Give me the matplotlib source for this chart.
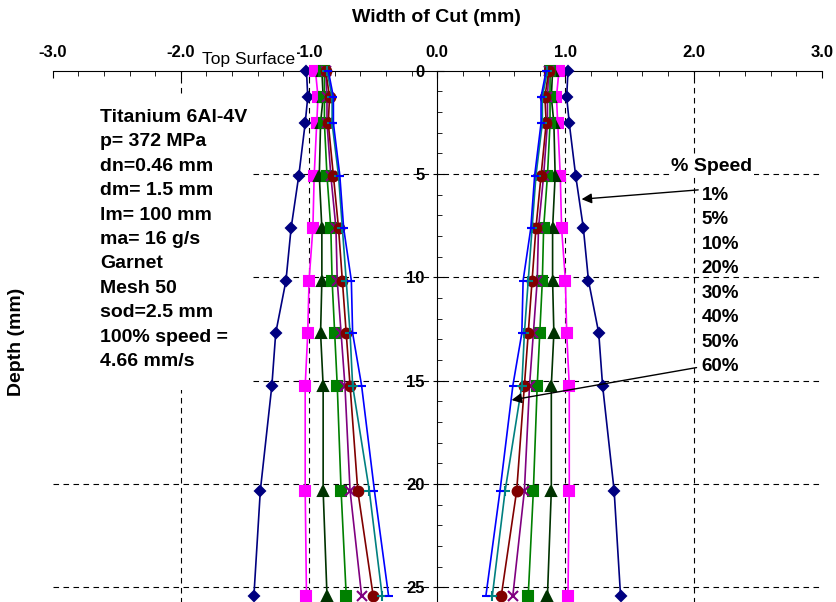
import matplotlib
matplotlib.use('Agg')
import matplotlib.pyplot as plt
from matplotlib.patches import Rectangle
from matplotlib.ticker import MultipleLocator, FormatStrFormatter

plt.rcParams['font.family'] = ['Liberation Sans', 'DejaVu Sans']
plt.rcParams['axes.unicode_minus'] = False

# depth below top surface (mm)
depth = [0, 1.27, 2.54, 5.08, 7.62, 10.16, 12.7, 15.24, 20.32, 25.4]

# half width of cut (mm) for each traverse speed, mirrored about 0
w_1 = [1.02, 1.01, 1.03, 1.08, 1.14, 1.18, 1.26, 1.29, 1.38, 1.43]
w_5 = [0.95, 0.93, 0.94, 0.96, 0.97, 1.00, 1.01, 1.03, 1.03, 1.02]
w_10 = [0.90, 0.89, 0.91, 0.92, 0.90, 0.90, 0.91, 0.89, 0.89, 0.86]
w_20 = [0.88, 0.88, 0.88, 0.86, 0.83, 0.82, 0.80, 0.78, 0.75, 0.71]
w_30 = [0.87, 0.86, 0.86, 0.83, 0.79, 0.78, 0.75, 0.72, 0.68, 0.59]
w_40 = [0.87, 0.84, 0.85, 0.81, 0.77, 0.74, 0.71, 0.68, 0.62, 0.50]
w_50 = [0.86, 0.82, 0.82, 0.77, 0.74, 0.71, 0.68, 0.66, 0.53, 0.43]
w_60 = [0.85, 0.81, 0.81, 0.76, 0.73, 0.67, 0.66, 0.59, 0.49, 0.38]

speed_labels = ['1%', '5%', '10%', '20%', '30%', '40%', '50%', '60%']
widths = [w_1, w_5, w_10, w_20, w_30, w_40, w_50, w_60]
colors = ['#000080', '#FF00FF', '#003300', '#008000', '#800080', '#800000', '#008080', '#0000FF']
markers = ['D', 's', '^', 's', 'x', 'o', '+', '_']
msizes = [5, 7, 7, 7, 7, 7, 7, 6]

info = ("Titanium 6Al-4V\np= 372 MPa\ndn=0.46 mm\ndm= 1.5 mm\nlm= 100 mm\n"
        "ma= 16 g/s\nGarnet\nMesh 50\nsod=2.5 mm\n100% speed =\n4.66 mm/s")

fig = plt.figure(figsize=(8.36, 6.02), dpi=100)
ax = fig.add_axes([0.063, -0.0098, 0.920, 0.8924])
ax.set_xlim(-3, 3)
ax.set_ylim(26, 0)

# dashed grid
for gx in [-2, -1, 1, 2]:
    ax.axvline(gx, color='k', lw=0.8, ls=(0, (5, 4)), zorder=1)
for gy in [5, 10, 15, 20, 25]:
    ax.axhline(gy, color='k', lw=0.8, ls=(0, (5, 4)), zorder=1)

# white box behind the parameter text
ax.add_patch(Rectangle((-3, 1.18), 1.555, 14.27, facecolor='white', edgecolor='none', zorder=2))

for w, c, m, ms in zip(widths, colors, markers, msizes):
    for sign in (1, -1):
        ax.plot([sign * v for v in w], depth, color=c, marker=m, ms=ms, mew=1.5,
                lw=1.2, zorder=4, clip_on=False)

ax.text(-2.63, 1.85, info, ha='left', va='top', fontsize=14, fontweight='bold',
        linespacing=1.57, zorder=5)

ax.text(2.143, 4.65, '% Speed', ha='center', va='center', fontsize=14, fontweight='bold',
        bbox=dict(facecolor='white', edgecolor='none', pad=1), zorder=5)
for i, lbl in enumerate(speed_labels):
    ax.text(2.062, 6.02 + i * 1.186, lbl, ha='left', va='center', fontsize=13.5,
            fontweight='bold', zorder=5)

arrow = dict(arrowstyle='-|>', color='k', lw=1, mutation_scale=15, shrinkA=0, shrinkB=0)
ax.annotate('', xy=(1.126, 6.22), xytext=(2.036, 5.77), arrowprops=arrow, zorder=6)
ax.annotate('', xy=(0.58, 15.94), xytext=(2.023, 14.37), arrowprops=arrow, zorder=6)

ax.text(-1.469, -0.55, 'Top Surface', ha='center', va='center', fontsize=12.5, clip_on=False,
        bbox=dict(facecolor='white', edgecolor='none', pad=1), zorder=6)

# axes: x on top, depth axis through x = 0
ax.spines['right'].set_visible(False)
ax.spines['bottom'].set_visible(False)
ax.spines['left'].set_position(('data', 0))
ax.xaxis.set_ticks_position('top')
ax.xaxis.set_major_locator(MultipleLocator(1))
ax.xaxis.set_minor_locator(MultipleLocator(0.2))
ax.xaxis.set_major_formatter(FormatStrFormatter('%.1f'))
ax.yaxis.set_major_locator(MultipleLocator(5))
ax.yaxis.set_minor_locator(MultipleLocator(1))
ax.tick_params(which='both', direction='in')
ax.tick_params(which='major', length=5)
ax.tick_params(which='minor', length=3.5)
ax.tick_params(axis='x', pad=8, labelsize=12)
ax.tick_params(axis='y', pad=9, labelsize=12)
for t in ax.get_xticklabels() + ax.get_yticklabels():
    t.set_fontweight('bold')

fig.text(436 / 836, 1 - 17 / 602, 'Width of Cut (mm)', ha='center', va='center',
         fontsize=14, fontweight='bold')
fig.text(17 / 836, 1 - 342 / 602, 'Depth (mm)', ha='center', va='center', rotation=90,
         fontsize=14, fontweight='bold')

fig.savefig('out.png', dpi=100)
